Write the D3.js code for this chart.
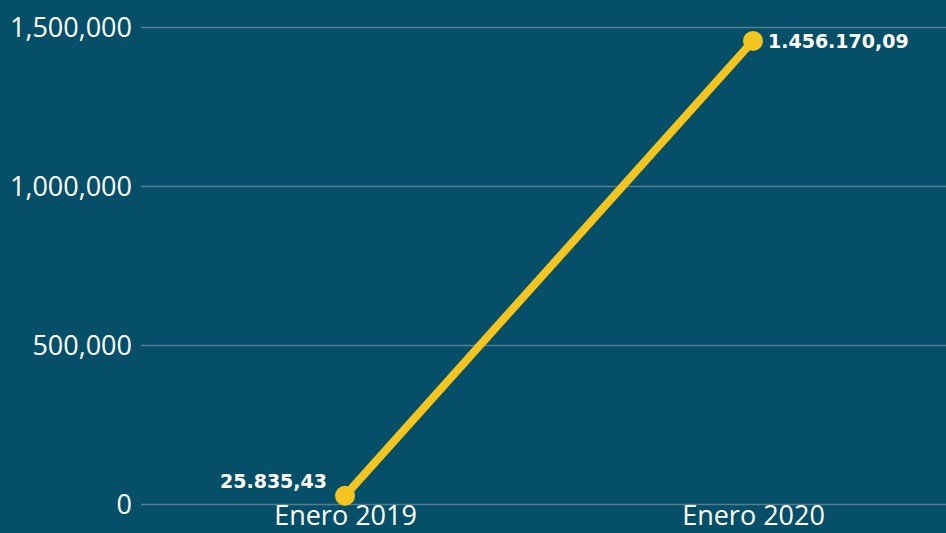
<!DOCTYPE html>
<html><head><meta charset="utf-8">
<script src="https://cdn.jsdelivr.net/npm/d3@7"></script>
<style>html,body{margin:0;padding:0;background:#054f68;overflow:hidden}</style>
</head><body>
<svg id="c" width="946" height="533"></svg>
<script>
const categories = ["Enero 2019", "Enero 2020"];
const values = [25835.43, 1456170.09];
const valueLabels = ["25.835,43", "1.456.170,09"];
const yTicks = [0, 500000, 1000000, 1500000];

const W = 946, H = 533;
const svg = d3.select("#c");
svg.append("rect").attr("width", W).attr("height", H).attr("fill", "#054f68");

const x = d3.scalePoint().domain(categories).range([141, 957]).padding(0.5);
const y = d3.scaleLinear().domain([0, 1500000]).range([504, 27]);

// grid + y labels
const yAxis = svg.append("g").attr("transform", "translate(141,0)")
  .call(d3.axisLeft(y).tickValues(yTicks).tickSize(-820).tickPadding(9).tickFormat(d3.format(",")));
yAxis.select(".domain").remove();
yAxis.selectAll(".tick line").attr("stroke", "#587c91").attr("stroke-width", 1.6);
yAxis.selectAll(".tick text").attr("fill", "#ffffff").attr("font-family", "'Open Sans', sans-serif")
  .attr("font-size", 27).attr("dy", "0.35em");

// x labels
const xAxis = svg.append("g").attr("transform", "translate(0,504)")
  .call(d3.axisBottom(x).tickSize(0).tickPadding(0));
xAxis.select(".domain").remove();
xAxis.selectAll(".tick text").attr("fill", "#ffffff").attr("font-family", "'Open Sans', sans-serif")
  .attr("font-size", 27).attr("dy", 21);

const data = categories.map((c, i) => ({c, v: values[i], l: valueLabels[i]}));

svg.append("path").datum(data)
  .attr("d", d3.line().x(d => x(d.c)).y(d => y(d.v)))
  .attr("fill", "none").attr("stroke", "#f4c51e").attr("stroke-width", 8).attr("stroke-linecap", "round");

svg.selectAll("circle.pt").data(data).join("circle").attr("class", "pt")
  .attr("cx", d => x(d.c)).attr("cy", d => y(d.v)).attr("r", 10).attr("fill", "#f4c51e");

svg.selectAll("text.lbl").data(data).join("text").attr("class", "lbl")
  .attr("x", (d, i) => x(d.c) + (i === 0 ? -18 : 15))
  .attr("y", (d, i) => y(d.v) + (i === 0 ? -8 : 7))
  .attr("text-anchor", (d, i) => i === 0 ? "end" : "start")
  .attr("font-family", "'DejaVu Sans', sans-serif").attr("font-weight", "bold")
  .attr("font-size", 19).attr("fill", "#ffffff").text(d => d.l);
</script>
</body></html>
